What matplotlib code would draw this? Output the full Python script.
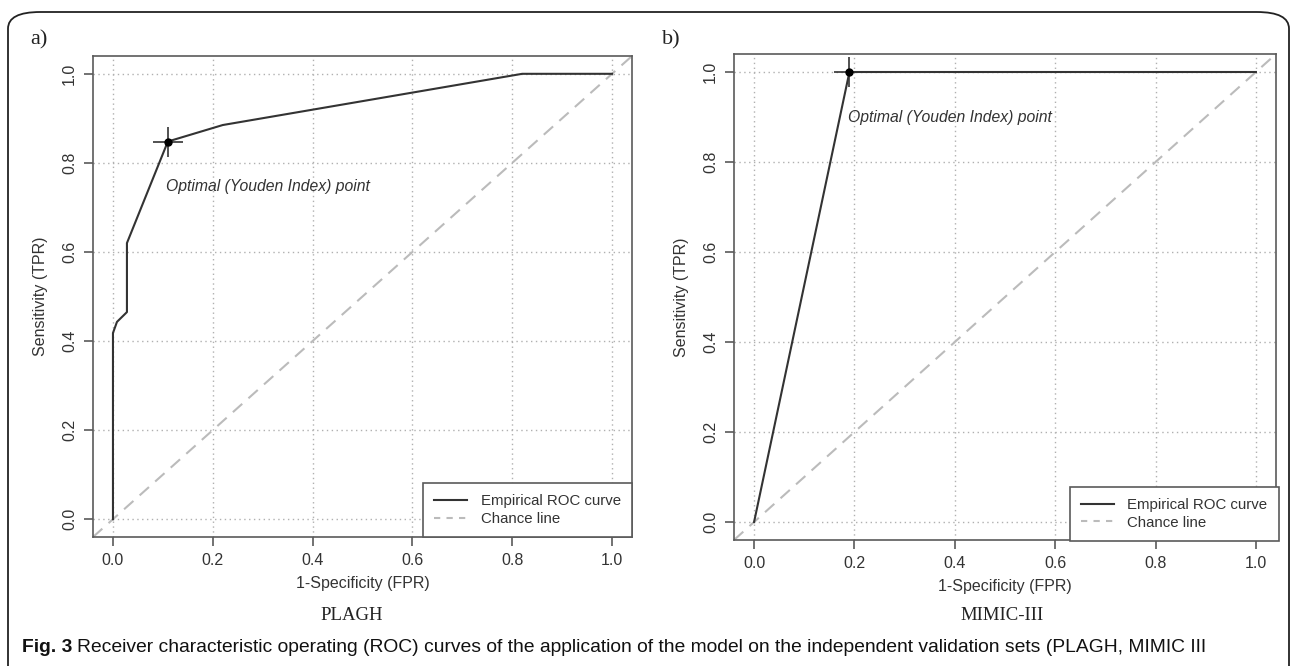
import matplotlib.pyplot as plt
from matplotlib.patches import FancyBboxPatch
from matplotlib.lines import Line2D

# ROC curve points
plagh_fpr = [0.0, 0.0, 0.008, 0.028, 0.028, 0.11, 0.22, 0.82, 1.0]
plagh_tpr = [0.0, 0.418, 0.443, 0.465, 0.62, 0.848, 0.885, 1.0, 1.0]
plagh_opt = (0.11, 0.848)

mimic_fpr = [0.0, 0.19, 1.0]
mimic_tpr = [0.0, 1.0, 1.0]
mimic_opt = (0.19, 1.0)

ticks = [0.0, 0.2, 0.4, 0.6, 0.8, 1.0]
tick_labels = ["0.0", "0.2", "0.4", "0.6", "0.8", "1.0"]

panel_tags = ["a)", "b)"]
panel_names = ["PLAGH", "MIMIC-III"]
caption_bold = "Fig. 3"
caption = ("Receiver characteristic operating (ROC) curves of the application of the model "
           "on the independent validation sets (PLAGH, MIMIC III")

plt.rcParams['font.family'] = ['Liberation Sans', 'DejaVu Sans']
dark = '#333333'
spine_c = '#5a5a5a'
grid_c = '#b0b0b0'

fig = plt.figure(figsize=(12.9, 6.66), dpi=100)

# rounded frame around the figure
frame = FancyBboxPatch((8/1290, -0.2), 1281/1290, 1 - 12/666 + 0.2,
                       boxstyle="round,pad=0,rounding_size=0.025",
                       transform=fig.transFigure, fill=False,
                       edgecolor='#222222', linewidth=1.3)
fig.patches.append(frame)

boxes = [[93/1290, 1 - 537/666, (632 - 93)/1290, (537 - 56)/666],
         [734/1290, 1 - 540/666, (1276 - 734)/1290, (540 - 54)/666]]
data = [(plagh_fpr, plagh_tpr, plagh_opt), (mimic_fpr, mimic_tpr, mimic_opt)]
legend_anchor = [(1.0, 0.0), (1.005, -0.002)]
tag_x = [30/1290, 662/1290]
name_x = [352/1290, 1002/1290]

for i in range(2):
    ax = fig.add_axes(boxes[i])
    fpr, tpr, opt = data[i]
    ax.set_xlim(-0.04, 1.04)
    ax.set_ylim(-0.04, 1.04)
    for t in ticks:
        ax.axvline(t, color=grid_c, linestyle=(0, (1, 2.5)), linewidth=1.0, zorder=0)
        ax.axhline(t, color=grid_c, linestyle=(0, (1, 2.5)), linewidth=1.0, zorder=0)
    ax.plot([-0.04, 1.04], [-0.04, 1.04], color='#bbbbbb', linestyle=(0, (6, 4)),
            linewidth=1.5, label='Chance line', zorder=1)
    ax.plot(fpr, tpr, color=dark, linewidth=1.5, label='Empirical ROC curve', zorder=2)
    # optimal point marker
    ax.plot([opt[0]], [opt[1]], marker='+', markersize=22, markeredgewidth=1.2,
            color=dark, zorder=3)
    ax.plot([opt[0]], [opt[1]], marker='o', markersize=5, color='black', zorder=4)
    ax.text(opt[0] - 0.003, opt[1] - 0.1, "Optimal (Youden Index) point",
            style='italic', fontsize=11.3, color=dark, ha='left', va='center')

    ax.set_xticks(ticks)
    ax.set_xticklabels(tick_labels)
    ax.set_yticks(ticks)
    ax.set_yticklabels(tick_labels, rotation=90, va='center')
    ax.tick_params(length=6.5, width=1.2, color=spine_c, labelcolor=dark,
                   labelsize=11.5, pad=5)
    for s in ax.spines.values():
        s.set_color(spine_c)
        s.set_linewidth(1.2)
    ax.set_xlabel("1-Specificity (FPR)", fontsize=11.5, color=dark, labelpad=6)
    ax.set_ylabel("Sensitivity (TPR)", fontsize=11.5, color=dark, labelpad=10)

    handles = [Line2D([], [], color=dark, linewidth=1.5),
               Line2D([], [], color='#bbbbbb', linestyle=(0, (3, 3)), linewidth=1.5)]
    leg = ax.legend(handles, ['Empirical ROC curve', 'Chance line'],
                    loc='lower right', bbox_to_anchor=legend_anchor[i],
                    borderaxespad=0, fancybox=False, fontsize=10.8,
                    handlelength=2.2, handletextpad=0.9, labelspacing=0.25,
                    borderpad=0.75, framealpha=1)
    leg.get_frame().set_edgecolor(spine_c)
    leg.get_frame().set_linewidth(1.2)
    for t in leg.get_texts():
        t.set_color(dark)

    fig.text(tag_x[i], 1 - 40/666, panel_tags[i], family='Liberation Serif',
             fontsize=16, color='#222222', ha='left', va='center')
    fig.text(name_x[i], 1 - 616/666, panel_names[i], family='Liberation Serif',
             fontsize=13.5, color='#222222', ha='center', va='center')

fig.text(22/1290, 1 - 647/666, caption_bold, fontweight='bold', fontsize=13.9,
         color='#111111', ha='left', va='center')
fig.text(77/1290, 1 - 647/666, caption, fontsize=13.9,
         color='#111111', ha='left', va='center')

fig.savefig('out.png', dpi=100)
